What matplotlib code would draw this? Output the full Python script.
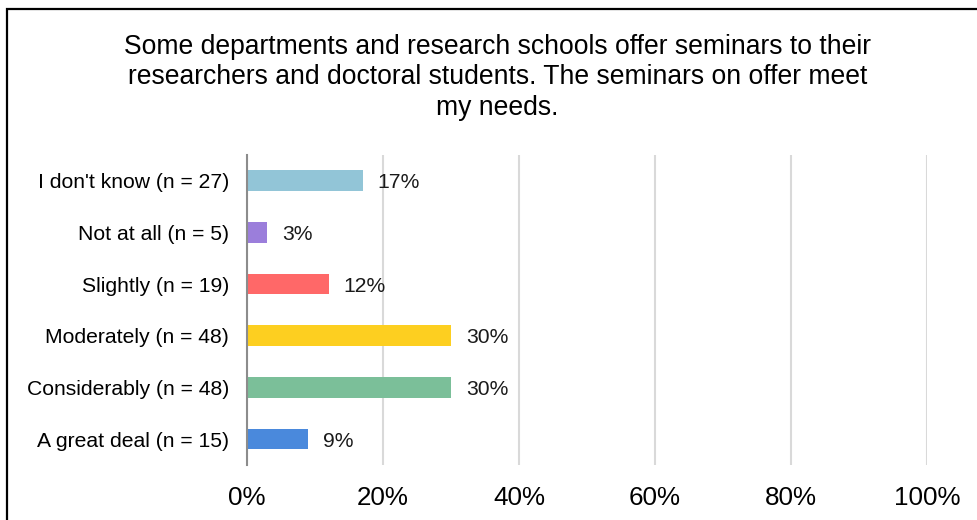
import numpy as np
import matplotlib.pyplot as plt
from matplotlib.patches import Rectangle

plt.rcParams['font.family'] = ['Liberation Sans', 'DejaVu Sans']

# survey answers, top to bottom as shown
categories = ["I don't know", "Not at all", "Slightly", "Moderately", "Considerably", "A great deal"]
counts = [27, 5, 19, 48, 48, 15]
percents = [17, 3, 12, 30, 30, 9]
colors = ["#92C5D7", "#9B7EDB", "#FF6868", "#FDCF20", "#7BBF99", "#4A89DC"]
ticks = [0, 20, 40, 60, 80, 100]

title = ("Some departments and research schools offer seminars to their\n"
         "researchers and doctoral students. The seminars on offer meet\n"
         "my needs.")

labels = [f"{c} (n = {n})" for c, n in zip(categories, counts)]
ypos = np.arange(len(categories))

fig = plt.figure(figsize=(9.77, 5.20), dpi=100)
ax = fig.add_axes([0.2528, 0.1058, 0.696, 0.5962])

ax.barh(ypos, percents, height=0.4, color=colors, zorder=3)
for y, p in zip(ypos, percents):
    ax.annotate(f"{p}%", (p, y), xytext=(11, -1.5), textcoords="offset points",
                va="center", ha="left", fontsize=15.2, color="#1a1a1a")

ax.set_xlim(0, 100)
ax.set_ylim(len(categories) - 0.5, -0.5)
ax.set_yticks(ypos)
ax.set_yticklabels(labels, fontsize=15.2)
ax.set_xticks(ticks)
ax.set_xticklabels([f"{t}%" for t in ticks], fontsize=18.7)
ax.tick_params(axis="both", length=0, colors="#000000")
ax.tick_params(axis="x", pad=15)
ax.tick_params(axis="y", pad=13)

ax.grid(axis="x", color="#d9d9d9", linewidth=1.5, zorder=0)
for side in ["top", "right", "bottom"]:
    ax.spines[side].set_visible(False)
ax.spines["left"].set_color("#8c8c8c")
ax.spines["left"].set_linewidth(1.5)
ax.spines["left"].set_zorder(4)

fig.text(0.509, 0.851, title, ha="center", va="center", fontsize=19.1,
         linespacing=1.24, color="#000000")

# outer frame, runs off the right and bottom edge
fig.patches.append(Rectangle((0.0072, -0.2), 1.2, 1.183, transform=fig.transFigure,
                             fill=False, edgecolor="#000000", linewidth=1.6))

fig.savefig("out.png", dpi=100)
